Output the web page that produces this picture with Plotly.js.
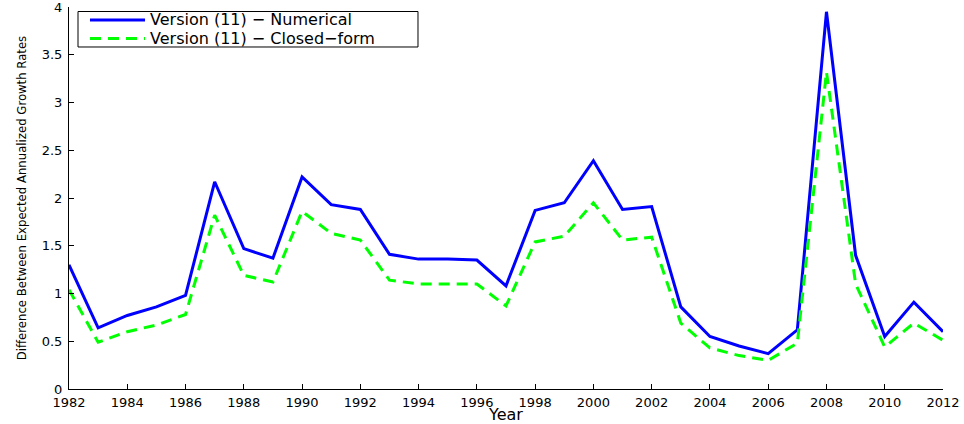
<!DOCTYPE html>
<html>
<head>
<meta charset="utf-8">
<script src="https://cdn.plot.ly/plotly-3.0.1.min.js"></script>
<style>html,body{margin:0;padding:0;background:#fff;}#chart{width:964px;height:424px;}</style>
</head>
<body>
<div id="chart"></div>
<script>
var years = [1982,1983,1984,1985,1986,1987,1988,1989,1990,1991,1992,1993,1994,1995,1996,1997,1998,1999,2000,2001,2002,2003,2004,2005,2006,2007,2008,2009,2010,2011,2012];
var numerical = [1.30,0.64,0.77,0.86,0.98,2.17,1.47,1.37,2.22,1.93,1.88,1.41,1.36,1.36,1.35,1.08,1.87,1.95,2.39,1.88,1.91,0.86,0.55,0.45,0.37,0.62,3.95,1.40,0.55,0.91,0.60];
var closedForm = [1.04,0.49,0.60,0.67,0.78,1.82,1.19,1.12,1.86,1.63,1.56,1.14,1.10,1.10,1.10,0.87,1.54,1.60,1.95,1.56,1.59,0.69,0.43,0.35,0.30,0.48,3.32,1.10,0.44,0.69,0.51];
var seriesNames = ['Version (11) \u2212 Numerical', 'Version (11) \u2212 Closed\u2212form'];
var xTicks = [1982,1984,1986,1988,1990,1992,1994,1996,1998,2000,2002,2004,2006,2008,2010,2012];
var yTicks = [0,0.5,1,1.5,2,2.5,3,3.5,4];
var yTickLabels = ['0','0.5','1','1.5','2','2.5','3','3.5','4'];

var colors = ['#0000ff', '#00ff00'];
var dashes = ['solid', '11px,7px'];

var traces = [
  {x: years, y: numerical, type: 'scatter', mode: 'lines', name: seriesNames[0],
   line: {color: colors[0], width: 3, dash: dashes[0]}},
  {x: years, y: closedForm, type: 'scatter', mode: 'lines', name: seriesNames[1],
   line: {color: colors[1], width: 3, dash: dashes[1]}}
];

// Manual legend (paper coordinates) to match the compact boxed legend
var legBox = {x0: 0.0103, x1: 0.3993, y0: 0.8953, y1: 0.9882};
var legRows = [0.9660, 0.9175];
var legLineX = [0.024, 0.087];
var legTextX = 0.0915;

var shapes = [{type: 'rect', xref: 'paper', yref: 'paper', x0: legBox.x0, x1: legBox.x1, y0: legBox.y0, y1: legBox.y1,
               line: {color: '#000', width: 1}, fillcolor: '#ffffff', layer: 'above'}];
var annotations = [];
for (var i = 0; i < seriesNames.length; i++) {
  shapes.push({type: 'line', xref: 'paper', yref: 'paper', x0: legLineX[0], x1: legLineX[1], y0: legRows[i], y1: legRows[i],
               line: {color: colors[i], width: 3, dash: dashes[i]}, layer: 'above'});
  annotations.push({xref: 'paper', yref: 'paper', x: legTextX, y: legRows[i], xanchor: 'left', yanchor: 'middle',
                    text: seriesNames[i], showarrow: false, borderpad: 0,
                    font: {size: 16, family: 'DejaVu Sans, Arial, sans-serif', color: '#000'}});
}

var layout = {
  width: 964, height: 424,
  margin: {l: 69, r: 21, t: 7, b: 35},
  paper_bgcolor: '#ffffff', plot_bgcolor: '#ffffff',
  font: {family: 'DejaVu Sans, Arial, sans-serif', color: '#000', size: 13},
  showlegend: false,
  shapes: shapes,
  annotations: annotations,
  xaxis: {range: [1982, 2012], tickvals: xTicks, ticktext: xTicks.map(String),
          showgrid: false, zeroline: false, showline: true, linecolor: '#000', linewidth: 1,
          ticks: 'inside', ticklen: 5, tickcolor: '#000', mirror: false,
          tickfont: {size: 13}, ticklabelstandoff: 1,
          title: {text: 'Year', font: {size: 16}, standoff: 0}},
  yaxis: {range: [0, 4.0001], tickvals: yTicks, ticktext: yTickLabels,
          showgrid: false, zeroline: false, showline: true, linecolor: '#000', linewidth: 1,
          ticks: 'inside', ticklen: 5, tickcolor: '#000', mirror: false,
          tickfont: {size: 13}, ticklabeloverflow: 'allow', ticklabelstandoff: 3,
          title: {text: 'Difference Between Expected Annualized Growth Rates',
                  font: {size: 13, family: 'Liberation Sans Narrow, DejaVu Sans Condensed, Arial Narrow, sans-serif'}, standoff: 12}}
};

Plotly.newPlot('chart', traces, layout, {displayModeBar: false, staticPlot: true});
</script>
</body>
</html>
